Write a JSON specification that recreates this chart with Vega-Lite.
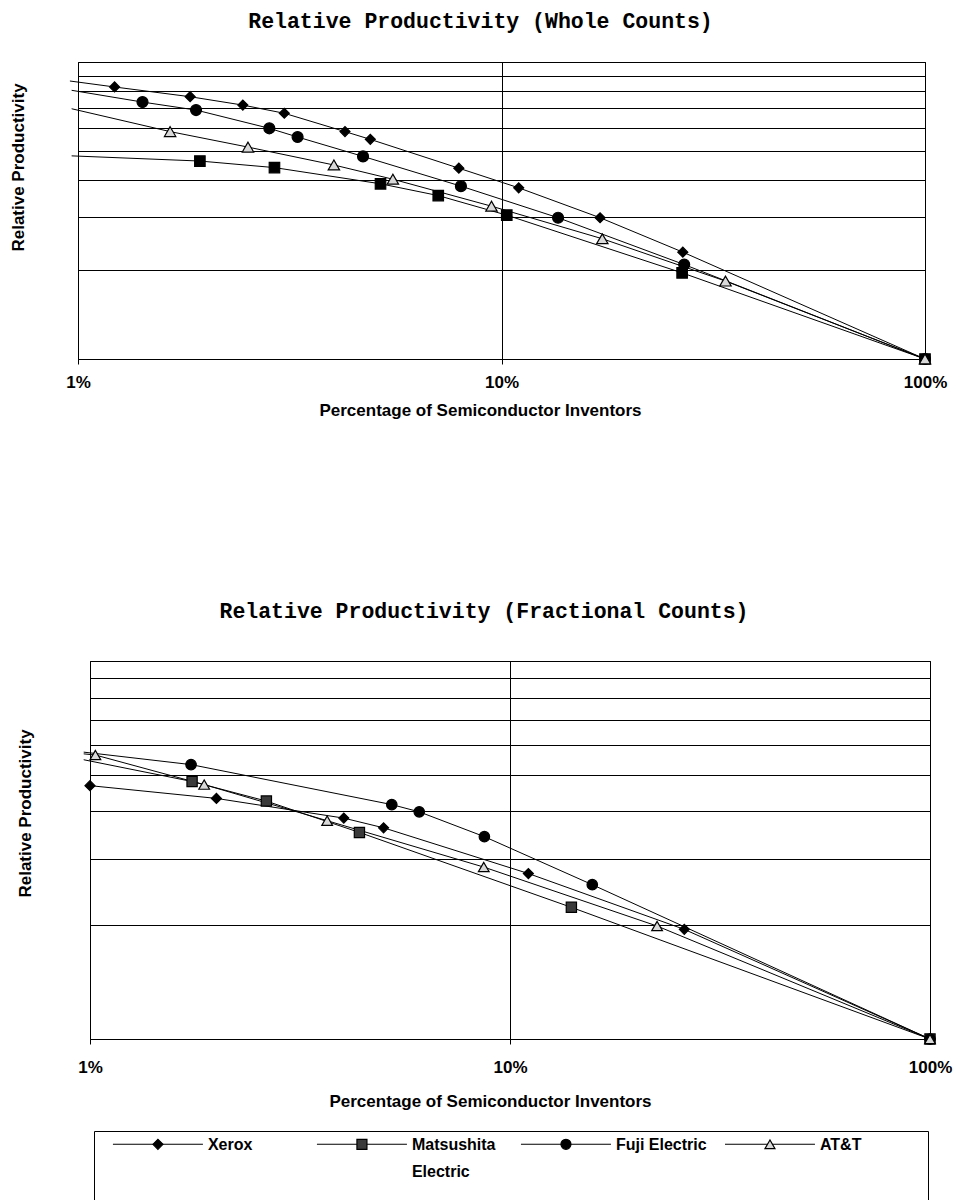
{
  "$schema": "https://vega.github.io/schema/vega-lite/v6.json",
  "padding": {"left": 8, "top": 10, "right": 0, "bottom": 0},
  "background": "white",
  "config": {
    "view": {"stroke": "black", "strokeWidth": 1},
    "font": "Liberation Sans",
    "axis": {
      "gridColor": "black", "gridOpacity": 1, "gridWidth": 1, "domain": false,
      "labelFont": "Liberation Sans", "labelFontWeight": "bold", "labelFontSize": 17, "labelColor": "black",
      "titleFont": "Liberation Sans", "titleFontWeight": "bold", "titleFontSize": 17, "titleColor": "black",
      "tickColor": "black"
    },
    "title": {"font": "Liberation Mono", "fontWeight": "bold", "fontSize": 21.5, "color": "black"}
  },
  "datasets": {
    "whole": [
      {"series": "Xerox", "pct": 0.957, "rp": 8.63},
      {"series": "Xerox", "pct": 1.22, "rp": 8.24},
      {"series": "Xerox", "pct": 1.84, "rp": 7.64},
      {"series": "Xerox", "pct": 2.45, "rp": 7.16},
      {"series": "Xerox", "pct": 3.07, "rp": 6.72},
      {"series": "Xerox", "pct": 4.27, "rp": 5.83},
      {"series": "Xerox", "pct": 4.90, "rp": 5.49},
      {"series": "Xerox", "pct": 7.93, "rp": 4.39},
      {"series": "Xerox", "pct": 10.98, "rp": 3.77},
      {"series": "Xerox", "pct": 17.09, "rp": 2.99},
      {"series": "Xerox", "pct": 26.8, "rp": 2.29},
      {"series": "Xerox", "pct": 100, "rp": 1},
      {"series": "Matsushita Electric", "pct": 0.966, "rp": 4.83},
      {"series": "Matsushita Electric", "pct": 1.94, "rp": 4.64},
      {"series": "Matsushita Electric", "pct": 2.91, "rp": 4.41},
      {"series": "Matsushita Electric", "pct": 5.18, "rp": 3.89},
      {"series": "Matsushita Electric", "pct": 7.09, "rp": 3.55},
      {"series": "Matsushita Electric", "pct": 10.29, "rp": 3.05},
      {"series": "Matsushita Electric", "pct": 26.7, "rp": 1.95},
      {"series": "Matsushita Electric", "pct": 100, "rp": 1},
      {"series": "Fuji Electric", "pct": 0.966, "rp": 8.03},
      {"series": "Fuji Electric", "pct": 1.42, "rp": 7.33},
      {"series": "Fuji Electric", "pct": 1.90, "rp": 6.89},
      {"series": "Fuji Electric", "pct": 2.83, "rp": 5.98},
      {"series": "Fuji Electric", "pct": 3.30, "rp": 5.59},
      {"series": "Fuji Electric", "pct": 4.71, "rp": 4.81},
      {"series": "Fuji Electric", "pct": 8.02, "rp": 3.82},
      {"series": "Fuji Electric", "pct": 13.6, "rp": 2.99},
      {"series": "Fuji Electric", "pct": 27.0, "rp": 2.08},
      {"series": "Fuji Electric", "pct": 100, "rp": 1},
      {"series": "AT&T", "pct": 0.966, "rp": 6.96},
      {"series": "AT&T", "pct": 1.65, "rp": 5.83},
      {"series": "AT&T", "pct": 2.52, "rp": 5.17},
      {"series": "AT&T", "pct": 4.02, "rp": 4.50},
      {"series": "AT&T", "pct": 5.54, "rp": 4.03},
      {"series": "AT&T", "pct": 9.47, "rp": 3.27},
      {"series": "AT&T", "pct": 17.3, "rp": 2.54},
      {"series": "AT&T", "pct": 33.8, "rp": 1.83},
      {"series": "AT&T", "pct": 100, "rp": 1}
    ],
    "fractional": [
      {"series": "Xerox", "pct": 1.0, "rp": 4.68},
      {"series": "Xerox", "pct": 2.00, "rp": 4.33},
      {"series": "Xerox", "pct": 4.02, "rp": 3.84},
      {"series": "Xerox", "pct": 5.00, "rp": 3.62},
      {"series": "Xerox", "pct": 11.06, "rp": 2.74},
      {"series": "Xerox", "pct": 26.0, "rp": 1.95},
      {"series": "Xerox", "pct": 100, "rp": 1},
      {"series": "Matsushita Electric", "pct": 0.966, "rp": 5.48},
      {"series": "Matsushita Electric", "pct": 1.75, "rp": 4.80},
      {"series": "Matsushita Electric", "pct": 2.63, "rp": 4.26},
      {"series": "Matsushita Electric", "pct": 4.38, "rp": 3.52},
      {"series": "Matsushita Electric", "pct": 14.0, "rp": 2.23},
      {"series": "Matsushita Electric", "pct": 100, "rp": 1},
      {"series": "Fuji Electric", "pct": 0.966, "rp": 5.74},
      {"series": "Fuji Electric", "pct": 1.74, "rp": 5.32},
      {"series": "Fuji Electric", "pct": 5.23, "rp": 4.17},
      {"series": "Fuji Electric", "pct": 6.08, "rp": 3.99},
      {"series": "Fuji Electric", "pct": 8.69, "rp": 3.43},
      {"series": "Fuji Electric", "pct": 15.7, "rp": 2.56},
      {"series": "Fuji Electric", "pct": 100, "rp": 1},
      {"series": "AT&T", "pct": 0.966, "rp": 5.68},
      {"series": "AT&T", "pct": 1.03, "rp": 5.64},
      {"series": "AT&T", "pct": 1.87, "rp": 4.71},
      {"series": "AT&T", "pct": 3.67, "rp": 3.78},
      {"series": "AT&T", "pct": 8.66, "rp": 2.85},
      {"series": "AT&T", "pct": 22.4, "rp": 1.99},
      {"series": "AT&T", "pct": 100, "rp": 1}
    ],
    "legend": [
      {"series": "Xerox", "label": "Xerox"},
      {"series": "Matsushita Electric", "label": "Matsushita\nElectric"},
      {"series": "Fuji Electric", "label": "Fuji Electric"},
      {"series": "AT&T", "label": "AT&T"}
    ]
  },
  "spacing": 181,
  "resolve": {"scale": {"fill": "independent", "shape": "independent", "size": "independent"}},
  "vconcat": [
    {
      "width": 847,
      "height": 297,
      "title": {"text": "Relative Productivity (Whole Counts)", "offset": 30, "dx": -21},
      "data": {"name": "whole"},
      "encoding": {
        "x": {"field": "pct", "type": "quantitative",
              "scale": {"type": "log", "domain": [1, 100], "nice": false},
              "axis": {"values": [1, 10, 100], "labelExpr": "datum.value + '%'", "labelFlush": false,
                       "title": "Percentage of Semiconductor Inventors", "titleX": 402, "tickSize": 5, "labelPadding": 10, "titlePadding": 12}},
        "y": {"field": "rp", "type": "quantitative",
              "scale": {"type": "log", "domain": [1, 10], "nice": false},
              "axis": {"values": [1, 2, 3, 4, 5, 6, 7, 8, 9, 10], "labels": false, "ticks": false,
                       "title": "Relative Productivity", "titlePadding": 51, "titleY": 105}}
      },
      "layer": [
        {"mark": {"type": "line", "clip": false, "color": "black", "strokeWidth": 1},
         "encoding": {"detail": {"field": "series"}}},
        {"transform": [{"filter": "datum.pct >= 1"}],
         "mark": {"type": "point", "filled": true, "opacity": 1, "stroke": "black", "strokeWidth": 1.2},
         "encoding": {
           "shape": {"field": "series", "type": "nominal", "legend": null,
                     "scale": {"domain": ["Xerox", "Matsushita Electric", "Fuji Electric", "AT&T"], "range": ["diamond", "square", "circle", "triangle-up"]}},
           "fill": {"field": "series", "type": "nominal", "legend": null,
                    "scale": {"domain": ["Xerox", "Matsushita Electric", "Fuji Electric", "AT&T"], "range": ["black", "black", "black", "#d9d9d9"]}},
           "size": {"field": "series", "type": "nominal", "legend": null,
                    "scale": {"domain": ["Xerox", "Matsushita Electric", "Fuji Electric", "AT&T"], "range": [100, 130, 130, 120]}}
         }}
      ]
    },
    {
      "spacing": 20,
      "resolve": {"scale": {"fill": "independent", "shape": "independent", "size": "independent"}},
      "vconcat": [
        {
          "spacing": -2,
          "hconcat": [
            {
              "width": 1,
              "height": 378,
              "view": {"stroke": null},
              "data": {"values": [{}]},
              "mark": {"type": "point", "opacity": 0, "size": 0},
              "encoding": {
                "y": {"datum": 5, "type": "quantitative", "scale": {"domain": [1, 10]},
                      "axis": {"title": "Relative Productivity", "labels": false, "ticks": false, "domain": false, "grid": false,
                               "titlePadding": 44, "titleY": 152}}
              }
            },
            {
              "width": 840,
              "height": 378,
              "title": {"text": "Relative Productivity (Fractional Counts)", "offset": 39, "dx": -26},
              "data": {"name": "fractional"},
              "encoding": {
                "x": {"field": "pct", "type": "quantitative",
                      "scale": {"type": "log", "domain": [1, 100], "nice": false},
                      "axis": {"values": [1, 10, 100], "labelExpr": "datum.value + '%'", "labelFlush": false,
                               "title": "Percentage of Semiconductor Inventors", "titleX": 400, "tickSize": 5, "labelPadding": 15, "titlePadding": 18}},
                "y": {"field": "rp", "type": "quantitative",
                      "scale": {"type": "log", "domain": [1, 10], "nice": false},
                      "axis": {"values": [1, 2, 3, 4, 5, 6, 7, 8, 9, 10], "labels": false, "ticks": false, "title": null}}
              },
              "layer": [
                {"mark": {"type": "line", "clip": false, "color": "black", "strokeWidth": 1},
                 "encoding": {"detail": {"field": "series"}}},
                {"transform": [{"filter": "datum.pct >= 1"}],
                 "mark": {"type": "point", "filled": true, "opacity": 1, "stroke": "black", "strokeWidth": 1.2},
                 "encoding": {
                   "shape": {"field": "series", "type": "nominal", "legend": null,
                             "scale": {"domain": ["Xerox", "Matsushita Electric", "Fuji Electric", "AT&T"], "range": ["diamond", "square", "circle", "triangle-up"]}},
                   "fill": {"field": "series", "type": "nominal", "legend": null,
                            "scale": {"domain": ["Xerox", "Matsushita Electric", "Fuji Electric", "AT&T"], "range": ["black", "#3a3a3a", "black", "#d9d9d9"]}},
                   "size": {"field": "series", "type": "nominal", "legend": null,
                            "scale": {"domain": ["Xerox", "Matsushita Electric", "Fuji Electric", "AT&T"], "range": [100, 115, 130, 120]}}
                 }}
              ]
            }
          ]
        },
        {
          "spacing": 14,
          "hconcat": [
            {
              "width": 1,
              "height": 80,
              "view": {"stroke": null},
              "data": {"values": [{}]},
              "mark": {"type": "point", "opacity": 0, "size": 0}
            },
            {
              "width": 834,
              "height": 80,
              "data": {"name": "legend"},
              "encoding": {
                "x": {"field": "series", "type": "nominal", "sort": null,
                      "scale": {"type": "point", "domain": ["Xerox", "Matsushita Electric", "Fuji Electric", "AT&T"], "padding": 0.544, "align": 0.288},
                      "axis": null},
                "y": {"datum": "r1", "type": "nominal",
                      "scale": {"type": "point", "domain": ["r1", "r2", "r3"], "padding": 0.5},
                      "axis": null}
              },
              "layer": [
                {"mark": {"type": "tick", "orient": "horizontal", "size": 90, "thickness": 1, "color": "black", "opacity": 1}},
                {"mark": {"type": "point", "filled": true, "opacity": 1, "stroke": "black", "strokeWidth": 1.2},
                 "encoding": {
                   "shape": {"field": "series", "type": "nominal", "legend": null,
                             "scale": {"domain": ["Xerox", "Matsushita Electric", "Fuji Electric", "AT&T"], "range": ["diamond", "square", "circle", "triangle-up"]}},
                   "fill": {"field": "series", "type": "nominal", "legend": null,
                            "scale": {"domain": ["Xerox", "Matsushita Electric", "Fuji Electric", "AT&T"], "range": ["black", "#3a3a3a", "black", "#d9d9d9"]}},
                   "size": {"field": "series", "type": "nominal", "legend": null,
                            "scale": {"domain": ["Xerox", "Matsushita Electric", "Fuji Electric", "AT&T"], "range": [100, 100, 120, 100]}}
                 }},
                {"mark": {"type": "text", "align": "left", "baseline": "alphabetic", "dx": 50, "dy": 6, "lineBreak": "\n", "lineHeight": 27,
                          "font": "Liberation Sans", "fontWeight": "bold", "fontSize": 16, "color": "black"},
                 "encoding": {"text": {"field": "label"}}}
              ]
            }
          ]
        }
      ]
    }
  ]
}
